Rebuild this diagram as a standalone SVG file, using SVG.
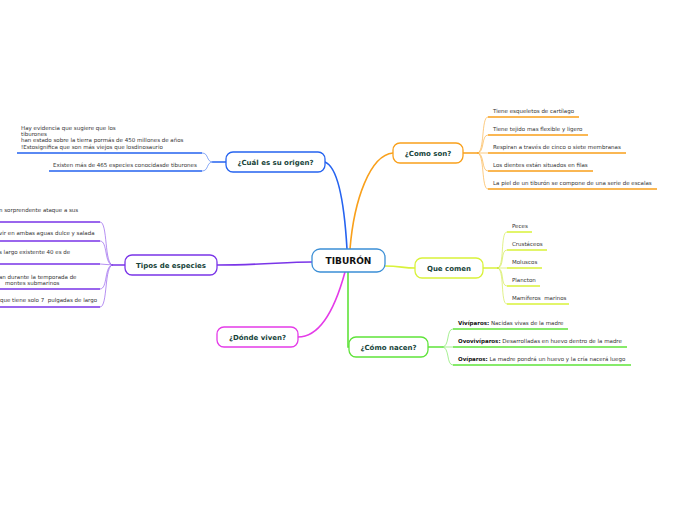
<svg xmlns="http://www.w3.org/2000/svg" width="697" height="520" viewBox="0 0 697 520">
<style>
text{font-family:"DejaVu Sans","Verdana",sans-serif;white-space:pre}
.leaf{font-size:5.5px;fill:#333}
.lb{font-weight:bold;fill:#111}
.nt{font-size:7px;font-weight:bold;fill:#17443a;text-anchor:middle}
.rt{font-size:9px;font-weight:bold;fill:#111;text-anchor:middle}
.node{fill:#fff;stroke-width:1.3}
.main{fill:none;stroke-width:1.6;stroke-linecap:round}
.fan{fill:none;stroke-width:1;opacity:.55}
.ul{fill:none;stroke-width:1.5}
</style>
<rect width="697" height="520" fill="#fff"/>
<g id="connectors">
<path class="main" stroke="#2563f0" d="M325,162 C340,168 345,215 347,249"/>
<path class="main" stroke="#f9a01b" d="M393,153 C370,155 354,200 350,249"/>
<path class="main" stroke="#7a35e8" d="M217,265 C260,265 285,262 312,262"/>
<path class="main" stroke="#d9f23a" d="M385,266 C400,266 403,268 415,268"/>
<path class="main" stroke="#e43be8" d="M345,272 C336,305 322,337 298,337"/>
<path class="main" stroke="#5fe33a" d="M348,272 L348,347 L349,347"/>
<path class="main" stroke="#2563f0" d="M226,162 L213,162"/>
<path class="fan" stroke="#2563f0" d="M213,162 C206,162 209,153 202,153 M213,162 C206,162 209,171 202,171"/>
<path class="ul" stroke="#2563f0" d="M202,153 L17,153 M202,171 L49,171"/>
<path class="main" stroke="#7a35e8" d="M125,265 L113,265"/>
<path class="fan" stroke="#7a35e8" d="M113,265 C104,265 108,222 100,222 M113,265 C104,265 108,241 100,241 M113,265 L100,264 M113,265 C104,265 108,289 100,289 M113,265 C104,265 108,307 100,307"/>
<path class="ul" stroke="#7a35e8" d="M100,222 L0,222 M100,241 L0,241 M100,264 L0,264 M100,289 L0,289 M100,307 L0,307"/>
<path class="main" stroke="#f9a01b" d="M463,153 L477,153"/>
<path class="fan" stroke="#f9a01b" d="M477,153 C485,153 481,117 488,117 M477,153 C485,153 481,135 488,135 M477,153 L488,153 M477,153 C485,153 481,171 488,171 M477,153 C485,153 481,189 488,189"/>
<path class="ul" stroke="#f9a01b" d="M488,117 L579,117 M488,135 L588,135 M488,153 L626,153 M488,171 L593,171 M488,189 L657,189"/>
<path class="main" stroke="#d9f23a" d="M483,268 L497,268"/>
<path class="fan" stroke="#c8e62a" d="M497,268 C505,268 500,232 507,232 M497,268 C505,268 500,250 507,250 M497,268 L507,268 M497,268 C505,268 500,286 507,286 M497,268 C505,268 500,304 507,304"/>
<path class="ul" stroke="#d9f23a" d="M507,232 L532,232 M507,250 L547,250 M507,268 L542,268 M507,286 L540,286 M507,304 L569,304"/>
<path class="main" stroke="#5fe33a" d="M428,347 L442,347"/>
<path class="fan" stroke="#5fe33a" d="M442,347 C450,347 446,329 453,329 M442,347 L453,347 M442,347 C450,347 446,365 453,365"/>
<path class="ul" stroke="#5fe33a" d="M453,329 L568,329 M453,347 L627,347 M453,365 L631,365"/>
</g>
<g id="root"><rect class="node" x="312" y="249" width="73" height="23" rx="8" stroke="#3b8fd6"/><text class="rt" x="348.5" y="264">TIBURÓN</text></g>
<g id="origen"><rect class="node" x="226" y="152" width="99" height="20" rx="7" stroke="#2563f0"/><text class="nt" x="275.5" y="164.5">¿Cuál es su origen?</text></g>
<g id="tipos"><rect class="node" x="125" y="255" width="92" height="20" rx="7" stroke="#7a35e8"/><text class="nt" x="171" y="267.5">Tipos de especies</text></g>
<g id="donde"><rect class="node" x="217" y="327" width="81" height="20" rx="7" stroke="#e43be8"/><text class="nt" x="257.5" y="339.5">¿Dónde viven?</text></g>
<g id="comoson"><rect class="node" x="393" y="143" width="70" height="20" rx="7" stroke="#f9a01b"/><text class="nt" x="428" y="155.5">¿Como son?</text></g>
<g id="quecomen"><rect class="node" x="415" y="258" width="68" height="20" rx="7" stroke="#d9f23a"/><text class="nt" x="449" y="270.5">Que comen</text></g>
<g id="comonacen"><rect class="node" x="349" y="337" width="79" height="20" rx="7" stroke="#5fe33a"/><text class="nt" x="388.5" y="349.5">¿Cómo nacen?</text></g>
<g id="origen-leaves">
<text class="leaf" x="21" y="130">Hay evidencia que sugiere que los</text>
<text class="leaf" x="21" y="136">tiburones</text>
<text class="leaf" x="21" y="142">han estado sobre la tierra pormás de 450 millones de años</text>
<text class="leaf" x="21" y="148.5">!Estosignifica que son más viejos que losdinosaurio</text>
<text class="leaf" x="53" y="167">Existen más de 465 especies conocidasde tiburones</text>
</g>
<g id="tipos-leaves">
<text class="leaf" x="-1" y="212">n sorprendente ataque a sus</text>
<text class="leaf" x="-1" y="235">vir en ambas aguas dulce y salada</text>
<text class="leaf" x="-1" y="254">s largo existente 40 es de</text>
<text class="leaf" x="-1" y="279">an durante la temporada de</text>
<text class="leaf" x="5" y="285">montes submarinos</text>
<text class="leaf" x="0" y="302">que tiene solo 7  pulgadas de largo</text>
</g>
<g id="comoson-leaves">
<text class="leaf" x="493" y="113">Tiene esqueletos de cartílago</text>
<text class="leaf" x="493" y="131">Tiene tejido mas flexible y ligero</text>
<text class="leaf" x="493" y="149">Respiran a través de cinco o siete membranas</text>
<text class="leaf" x="493" y="167">Los dientes están situados en filas</text>
<text class="leaf" x="493" y="185">La piel de un tiburón se compone de una serie de escalas</text>
</g>
<g id="quecomen-leaves">
<text class="leaf" x="512" y="228">Peces</text>
<text class="leaf" x="512" y="246">Crustáceos</text>
<text class="leaf" x="512" y="264">Moluscos</text>
<text class="leaf" x="512" y="282">Plancton</text>
<text class="leaf" x="512" y="300">Mamíferos  marinos</text>
</g>
<g id="comonacen-leaves">
<text class="leaf" x="458" y="325"><tspan class="lb">Vivíparos:</tspan> Nacidas vivas de la madre</text>
<text class="leaf" x="458" y="343"><tspan class="lb">Ovovivíparos:</tspan> Desarrolladas en huevo dentro de la madre</text>
<text class="leaf" x="458" y="361"><tspan class="lb">Ovíparos:</tspan> La madre pondrá un huevo y la cría nacerá luego</text>
</g>
</svg>
